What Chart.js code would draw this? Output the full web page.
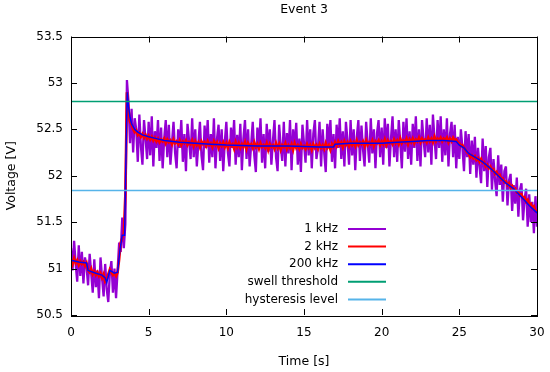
<!DOCTYPE html>
<html>
<head>
<meta charset="utf-8">
<script src="https://cdn.jsdelivr.net/npm/chart.js@4.4.0/dist/chart.umd.min.js"></script>
<style>
  html, body { margin: 0; padding: 0; background: #fff; }
</style>
</head>
<body>
<canvas id="eventChart" width="550" height="372"></canvas>
<script>
// Event 3: voltage swell seen at three sampling rates
const chartTitle = 'Event 3';
const xTitle = 'Time [s]';
const yTitle = 'Voltage [V]';

const xTickValues = [0, 5, 10, 15, 20, 25, 30];
const xTickLabels = ['0', '5', '10', '15', '20', '25', '30'];
const yTickValues = [50.5, 51, 51.5, 52, 52.5, 53, 53.5];
const yTickLabels = ['50.5', '51', '51.5', '52', '52.5', '53', '53.5'];

const seriesLabels = ['1 kHz', '2 kHz', '200 kHz', 'swell threshold', 'hysteresis level'];

// 1 kHz and 2 kHz traces, one value every 0.1 s from 0 to 30 s
const sampleStep = 0.1;
const volts1k = [
  51.22, 50.98, 51.3, 51.05, 50.86, 51.25, 50.92, 51.18, 50.84, 51.12,
  51.02, 50.82, 51.16, 50.95, 50.74, 51.1, 50.8, 50.98, 50.68, 51.12,
  50.9, 50.7, 51.05, 50.78, 50.64, 50.95, 51.08, 50.74, 51.0, 50.68,
  50.98, 51.28, 51.18, 51.55, 51.22, 51.48, 53.03, 52.8, 52.35, 52.72,
  52.25, 52.62, 52.5, 52.15, 52.66, 52.32, 52.12, 52.6, 52.4, 52.18,
  52.58, 52.22, 52.64, 52.1, 52.48, 52.3, 52.6, 52.16, 52.52, 52.08,
  52.4, 52.6, 52.2, 52.55, 52.12, 52.35, 52.58, 52.25, 52.08, 52.5,
  52.3, 52.6, 52.15, 52.45, 52.05, 52.56, 52.38, 52.18, 52.62, 52.2,
  52.5, 52.1, 52.35, 52.58, 52.22, 52.06, 52.54, 52.3, 52.6, 52.14,
  52.45, 52.2, 52.62, 52.08, 52.4, 52.55, 52.16, 52.5, 52.05, 52.36,
  52.58, 52.25, 52.1, 52.52, 52.3, 52.6, 52.12, 52.44, 52.2, 52.56,
  52.06, 52.4, 52.6, 52.18, 52.5, 52.1, 52.34, 52.58, 52.22, 52.04,
  52.52, 52.3, 52.62, 52.14, 52.45, 52.08, 52.56, 52.26, 52.5, 52.12,
  52.38, 52.6, 52.2, 52.05, 52.55, 52.32, 52.16, 52.58, 52.1, 52.46,
  52.24, 52.6, 52.06, 52.5, 52.3, 52.57, 52.12, 52.4, 52.04, 52.55,
  52.35, 52.14, 52.6, 52.22, 52.5, 52.08, 52.45, 52.6, 52.18, 52.3,
  52.58, 52.1, 52.5, 52.25, 52.04, 52.56, 52.34, 52.6, 52.15, 52.45,
  52.08, 52.55, 52.3, 52.62, 52.18, 52.48, 52.1, 52.58, 52.38, 52.12,
  52.6, 52.22, 52.5, 52.06, 52.42, 52.6, 52.16, 52.54, 52.28, 52.1,
  52.58, 52.35, 52.14, 52.62, 52.24, 52.5, 52.08, 52.46, 52.6, 52.2,
  52.52, 52.12, 52.62, 52.3, 52.56, 52.1, 52.4, 52.64, 52.2, 52.5,
  52.15, 52.6, 52.35, 52.08, 52.58, 52.26, 52.62, 52.18, 52.48, 52.12,
  52.56, 52.3, 52.64, 52.16, 52.5, 52.1, 52.6, 52.38, 52.2, 52.62,
  52.25, 52.55, 52.12, 52.66, 52.4, 52.18, 52.6, 52.3, 52.64, 52.15,
  52.5, 52.22, 52.62, 52.1, 52.45, 52.58, 52.2, 52.55, 52.08, 52.42,
  52.18, 52.5, 52.3, 52.05, 52.48, 52.2, 52.45, 52.02, 52.38, 52.12,
  52.42, 51.98, 52.3, 52.1, 51.92, 52.4, 52.05, 52.32, 51.88, 52.2,
  52.3, 51.85, 52.18, 51.95, 51.78, 52.22, 51.9, 52.12, 51.72, 52.05,
  52.1, 51.68, 51.95, 52.02, 51.62, 51.9, 51.7, 51.98, 51.56, 51.85,
  51.92, 51.52, 51.75, 51.86, 51.45, 51.8, 51.5, 51.72, 51.38, 51.78,
  51.45
];
const volts2k = [
  51.1, 51.05, 51.11, 51.06, 51.09, 51.04, 51.08, 51.05, 51.07, 51.03,
  51.06, 50.98, 50.96, 51.0, 50.94, 50.97, 50.93, 50.96, 50.92, 50.95,
  50.9, 50.94, 50.86, 50.88, 50.94, 50.99, 50.96, 50.93, 50.95, 50.92,
  50.96, 51.1, 51.28, 51.33, 51.38, 51.8, 52.9, 52.72, 52.58, 52.55,
  52.5, 52.47, 52.49, 52.44, 52.46, 52.42, 52.45, 52.41, 52.44, 52.4,
  52.43, 52.39, 52.42, 52.38, 52.41, 52.37, 52.4, 52.36, 52.39, 52.37,
  52.4, 52.35, 52.39, 52.36, 52.38, 52.34, 52.39, 52.35, 52.37, 52.34,
  52.38, 52.33, 52.37, 52.35, 52.38, 52.33, 52.36, 52.34, 52.38, 52.32,
  52.37, 52.33, 52.36, 52.31, 52.37, 52.34, 52.36, 52.32, 52.37, 52.33,
  52.35, 52.31, 52.37, 52.33, 52.36, 52.3, 52.35, 52.32, 52.36, 52.31,
  52.35, 52.3, 52.36, 52.32, 52.34, 52.29, 52.36, 52.31, 52.35, 52.3,
  52.34, 52.31, 52.36, 52.29, 52.35, 52.32, 52.34, 52.3, 52.36, 52.31,
  52.34, 52.29, 52.35, 52.31, 52.33, 52.3, 52.35, 52.28, 52.34, 52.31,
  52.33, 52.29, 52.35, 52.3, 52.34, 52.28, 52.33, 52.31, 52.35, 52.29,
  52.33, 52.3, 52.34, 52.28, 52.35, 52.3, 52.33, 52.29, 52.34, 52.3,
  52.32, 52.29, 52.34, 52.3, 52.33, 52.28, 52.34, 52.3, 52.33, 52.29,
  52.34, 52.3, 52.33, 52.29, 52.35, 52.3, 52.33, 52.28, 52.34, 52.31,
  52.36, 52.32, 52.37, 52.33, 52.36, 52.31, 52.37, 52.33, 52.36, 52.32,
  52.37, 52.33, 52.36, 52.32, 52.38, 52.33, 52.36, 52.34, 52.37, 52.32,
  52.38, 52.33, 52.36, 52.34, 52.38, 52.32, 52.37, 52.35, 52.38, 52.33,
  52.37, 52.34, 52.39, 52.33, 52.38, 52.35, 52.37, 52.34, 52.39, 52.35,
  52.38, 52.34, 52.4, 52.35, 52.38, 52.36, 52.4, 52.34, 52.39, 52.36,
  52.4, 52.35, 52.39, 52.37, 52.41, 52.36, 52.4, 52.37, 52.39, 52.36,
  52.41, 52.37, 52.4, 52.36, 52.42, 52.37, 52.4, 52.38, 52.41, 52.37,
  52.4, 52.38, 52.41, 52.36, 52.4, 52.37, 52.41, 52.38, 52.39, 52.36,
  52.35, 52.32, 52.33, 52.3, 52.28, 52.25, 52.24, 52.2, 52.22, 52.19,
  52.21, 52.17, 52.19, 52.15, 52.18, 52.14, 52.15, 52.1, 52.12, 52.08,
  52.1, 52.06, 52.07, 52.02, 52.04, 52.0, 52.01, 51.96, 51.97, 51.93,
  51.94, 51.9, 51.92, 51.87, 51.89, 51.85, 51.86, 51.82, 51.83, 51.79,
  51.8, 51.76, 51.77, 51.72, 51.74, 51.69, 51.7, 51.65, 51.67, 51.62,
  51.62
];

// 200 kHz trace (smooth), sampled at its corners
const time200k = [
  0, 0.5, 1.0, 1.1, 1.6, 2.0, 2.2, 2.3, 2.5, 2.8,
  3.0, 3.15, 3.3, 3.45, 3.55, 3.62, 3.7, 3.8, 3.9, 4.1,
  4.3, 4.6, 5.0, 5.5, 6, 7, 8, 9, 10, 12,
  14, 16, 16.9, 17.0, 18, 19, 20, 21, 22, 23,
  24, 24.8, 25.0, 25.3, 25.6, 26.0, 26.5, 27, 27.5, 28,
  28.5, 29, 29.5, 30
];
const volts200k = [
  51.09, 51.07, 51.06, 50.98, 50.95, 50.93, 50.9, 50.85, 50.98, 50.95,
  50.96, 51.2, 51.36, 51.36, 52.3, 52.9, 52.75, 52.63, 52.56, 52.5,
  52.47, 52.44, 52.42, 52.4, 52.38, 52.36, 52.35, 52.34, 52.33, 52.32,
  52.32, 52.31, 52.31, 52.34, 52.35, 52.35, 52.35, 52.36, 52.37, 52.38,
  52.38, 52.37, 52.33, 52.3, 52.24, 52.2, 52.15, 52.08, 52.0, 51.92,
  51.86, 51.77, 51.68, 51.6
];

const swellThreshold = 52.8;
const hysteresisLevel = 51.84;
const timeSpan = [0, 30];

const fontName = '"DejaVu Sans", Verdana, sans-serif';
const tickFontSize = 12;
const titleFontSize = 12.5;

function toPoints(times, values) {
  return values.map((v, i) => ({x: times[i], y: v}));
}
function sampledPoints(values) {
  return values.map((v, i) => ({x: i * sampleStep, y: v}));
}

// gnuplot look: closed frame, inward mirrored ticks, legend with line after text
const gnuplotFrame = {
  id: 'gnuplotFrame',
  afterDatasetsDraw(chart) {
    const {ctx, chartArea: a, scales} = chart;
    ctx.save();
    ctx.strokeStyle = '#000';
    ctx.lineWidth = 1;
    ctx.beginPath();
    xTickValues.forEach(v => {
      const px = Math.round(scales.x.getPixelForValue(v)) + 0.5;
      ctx.moveTo(px, a.bottom); ctx.lineTo(px, a.bottom - 6);
      ctx.moveTo(px, a.top); ctx.lineTo(px, a.top + 6);
    });
    yTickValues.forEach(v => {
      const py = Math.round(scales.y.getPixelForValue(v)) + 0.5;
      ctx.moveTo(a.left, py); ctx.lineTo(a.left + 6, py);
      ctx.moveTo(a.right, py); ctx.lineTo(a.right - 6, py);
    });
    ctx.stroke();
    ctx.strokeRect(Math.round(a.left) + 0.5, Math.round(a.top) + 0.5,
      Math.round(a.right - a.left), Math.round(a.bottom - a.top));

    // key
    ctx.font = tickFontSize + 'px ' + fontName;
    ctx.fillStyle = '#000';
    ctx.textAlign = 'right';
    ctx.textBaseline = 'middle';
    chart.data.datasets.forEach((ds, i) => {
      const ky = 229 + i * 17.6;
      ctx.fillText(ds.label, 338, ky);
      ctx.strokeStyle = ds.borderColor;
      ctx.lineWidth = 2;
      ctx.beginPath();
      ctx.moveTo(348, ky);
      ctx.lineTo(386, ky);
      ctx.stroke();
    });
    ctx.restore();
  }
};

new Chart(document.getElementById('eventChart'), {
  type: 'line',
  data: {
    datasets: [
      {label: seriesLabels[0], data: sampledPoints(volts1k), borderColor: '#9400d3', borderWidth: 2.3, borderJoinStyle: 'bevel', order: 5},
      {label: seriesLabels[1], data: sampledPoints(volts2k), borderColor: '#ff0000', borderWidth: 2.6, order: 4},
      {label: seriesLabels[2], data: toPoints(time200k, volts200k), borderColor: '#0000ff', borderWidth: 1.5, order: 3},
      {label: seriesLabels[3], data: toPoints(timeSpan, [swellThreshold, swellThreshold]), borderColor: '#009e73', borderWidth: 1.5, order: 2},
      {label: seriesLabels[4], data: toPoints(timeSpan, [hysteresisLevel, hysteresisLevel]), borderColor: '#56b4e9', borderWidth: 1.5, order: 1}
    ]
  },
  options: {
    responsive: false,
    animation: false,
    devicePixelRatio: 1,
    layout: {padding: 0},
    elements: {point: {radius: 0}, line: {tension: 0}},
    plugins: {
      legend: {display: false},
      tooltip: {enabled: false},
      title: {
        display: true,
        text: chartTitle,
        fullSize: false,
        color: '#000',
        font: {family: fontName, size: titleFontSize, weight: 'normal'},
        padding: {top: 2, bottom: 19.5}
      }
    },
    scales: {
      x: {
        type: 'linear',
        min: 0,
        max: 30,
        grid: {display: false, drawTicks: false},
        border: {display: false},
        afterBuildTicks: s => { s.ticks = xTickValues.map(v => ({value: v})); },
        afterFit: s => { s.height = 57; s.paddingLeft = 0; s.paddingRight = 13; },
        ticks: {
          color: '#000',
          padding: 11,
          maxRotation: 0,
          font: {family: fontName, size: tickFontSize},
          callback: v => xTickLabels[xTickValues.indexOf(v)]
        },
        title: {
          display: true,
          text: xTitle,
          color: '#000',
          font: {family: fontName, size: titleFontSize},
          padding: {top: 4, bottom: 3}
        }
      },
      y: {
        type: 'linear',
        min: 50.5,
        max: 53.5,
        grid: {display: false, drawTicks: false},
        border: {display: false},
        afterBuildTicks: s => { s.ticks = yTickValues.map(v => ({value: v})); },
        afterFit: s => { s.width = 71; },
        ticks: {
          color: '#000',
          padding: 8,
          font: {family: fontName, size: tickFontSize},
          callback: v => yTickLabels[yTickValues.indexOf(v)]
        },
        title: {
          display: true,
          text: yTitle,
          color: '#000',
          font: {family: fontName, size: titleFontSize},
          padding: {top: 4, bottom: 0}
        }
      }
    }
  },
  plugins: [gnuplotFrame]
});
</script>
</body>
</html>
